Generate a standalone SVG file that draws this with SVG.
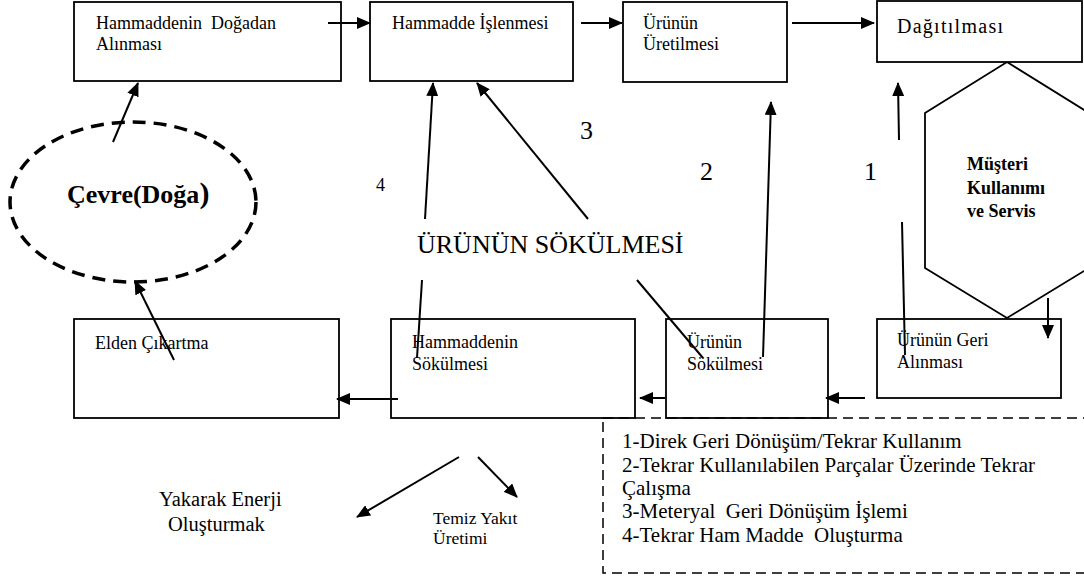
<svg xmlns="http://www.w3.org/2000/svg" width="1084" height="580" viewBox="0 0 1084 580">
<style>
.box{fill:#fff;stroke:#000;stroke-width:1.8}
.t{font-family:"Liberation Serif","Times New Roman",serif;fill:#000;white-space:pre}
.s18{font-size:18px}
.bold{font-weight:bold}
.ln{stroke:#000;stroke-width:2;fill:none}
.arr{stroke:#000;stroke-width:2;fill:none;marker-end:url(#ah)}
.lg{font-size:21px}
</style>
<defs>
<marker id="ah" markerUnits="userSpaceOnUse" markerWidth="14" markerHeight="12" refX="13" refY="6" orient="auto">
<path d="M0,0 L14,6 L0,12 z" fill="#000"/>
</marker>
</defs>
<rect width="1084" height="580" fill="#fff"/>

<g id="hexagon">
<polygon points="1007,62 1089,113 1089,268 1007,318 925,268 925,113" fill="#fff" stroke="#000" stroke-width="1.8"/>
<text class="t bold" font-size="18" x="967" y="170">Müşteri</text>
<text class="t bold" font-size="18" x="967" y="194">Kullanımı</text>
<text class="t bold" font-size="18" x="967" y="217">ve Servis</text>
</g>

<g id="box-dogadan">
<rect class="box" x="74" y="2" width="267" height="79"/>
<text class="t s18" x="96" y="29" xml:space="preserve">Hammaddenin  Doğadan</text>
<text class="t s18" x="96" y="50">Alınması</text>
</g>
<g id="box-islenmesi">
<rect class="box" x="370" y="2" width="203" height="79"/>
<text class="t s18" x="392" y="29">Hammadde İşlenmesi</text>
</g>
<g id="box-uretilmesi">
<rect class="box" x="623" y="2" width="164" height="80"/>
<text class="t s18" x="643" y="29">Ürünün</text>
<text class="t s18" x="643" y="50">Üretilmesi</text>
</g>
<g id="box-dagitilmasi">
<rect class="box" x="877" y="1" width="205" height="61"/>
<text class="t" font-size="20" x="897" y="33" textLength="106" lengthAdjust="spacing">Dağıtılması</text>
</g>

<g id="cevre">
<ellipse cx="133" cy="202" rx="123" ry="80" fill="none" stroke="#000" stroke-width="3.5" stroke-dasharray="13 8"/>
<text class="t bold" font-size="26" x="67" y="203">Çevre(Doğa<tspan font-size="30">)</tspan></text>
</g>

<g id="box-elden">
<rect class="box" x="74" y="319" width="265" height="99"/>
<text class="t s18" x="95" y="349">Elden Çıkartma</text>
</g>
<g id="box-hammaddenin-sok">
<rect class="box" x="391" y="319" width="244" height="99"/>
<text class="t s18" x="412" y="348">Hammaddenin</text>
<text class="t s18" x="412" y="370">Sökülmesi</text>
</g>
<g id="box-urunun-sok">
<rect class="box" x="666" y="319" width="162" height="99"/>
<text class="t s18" x="687" y="348">Ürünün</text>
<text class="t s18" x="687" y="370">Sökülmesi</text>
</g>
<g id="box-geri">
<rect class="box" x="877" y="319" width="184" height="79"/>
<text class="t s18" x="897" y="346">Ürünün Geri</text>
<text class="t s18" x="897" y="368">Alınması</text>
</g>

<g id="labels">
<text class="t" font-size="26" x="417" y="253">ÜRÜNÜN SÖKÜLMESİ</text>
<text class="t" font-size="26" x="580" y="139">3</text>
<text class="t" font-size="26" x="700" y="180">2</text>
<text class="t" font-size="26" x="864" y="180">1</text>
<text class="t" font-size="18" x="376" y="191">4</text>
<text class="t" font-size="20.5" x="159" y="506">Yakarak Enerji</text>
<text class="t" font-size="20.5" x="168" y="531">Oluşturmak</text>
<text class="t" font-size="17.5" x="433" y="524">Temiz Yakıt</text>
<text class="t" font-size="17.5" x="433" y="544">Üretimi</text>
</g>

<g id="legend">
<rect x="603" y="418" width="500" height="155" fill="none" stroke="#000" stroke-width="1.5" stroke-dasharray="10 6"/>
<text class="t lg" x="622" y="448">1-Direk Geri Dönüşüm/Tekrar Kullanım</text>
<text class="t lg" x="622" y="472">2-Tekrar Kullanılabilen Parçalar Üzerinde Tekrar</text>
<text class="t lg" x="622" y="495">Çalışma</text>
<text class="t lg" x="622" y="518" xml:space="preserve">3-Meteryal  Geri Dönüşüm İşlemi</text>
<text class="t lg" x="622" y="542" xml:space="preserve">4-Tekrar Ham Madde  Oluşturma</text>
</g>

<g id="connectors">
<line class="arr" x1="328" y1="23" x2="370" y2="23"/>
<line class="arr" x1="581" y1="23" x2="622" y2="23"/>
<line class="arr" x1="792" y1="23" x2="874" y2="23"/>
<line class="arr" x1="113" y1="142" x2="138" y2="83"/>
<line class="arr" x1="174" y1="360" x2="135" y2="281"/>
<line class="arr" x1="425" y1="219" x2="433" y2="83"/>
<line class="ln" x1="422" y1="280" x2="417" y2="358"/>
<line class="arr" x1="588" y1="219" x2="477" y2="83"/>
<line class="ln" x1="637" y1="280" x2="703" y2="358"/>
<line class="arr" x1="763" y1="357" x2="771" y2="102"/>
<line class="arr" x1="899" y1="140" x2="898" y2="83"/>
<line class="ln" x1="902" y1="222" x2="905" y2="355"/>
<line class="arr" x1="1048" y1="298" x2="1048" y2="338"/>
<line class="arr" x1="865" y1="398" x2="826" y2="398"/>
<line class="arr" x1="665" y1="398" x2="640" y2="398"/>
<line class="arr" x1="398" y1="399" x2="337" y2="399"/>
<line class="arr" x1="459" y1="457" x2="357" y2="517"/>
<line class="arr" x1="478" y1="457" x2="517" y2="497"/>
</g>
</svg>
